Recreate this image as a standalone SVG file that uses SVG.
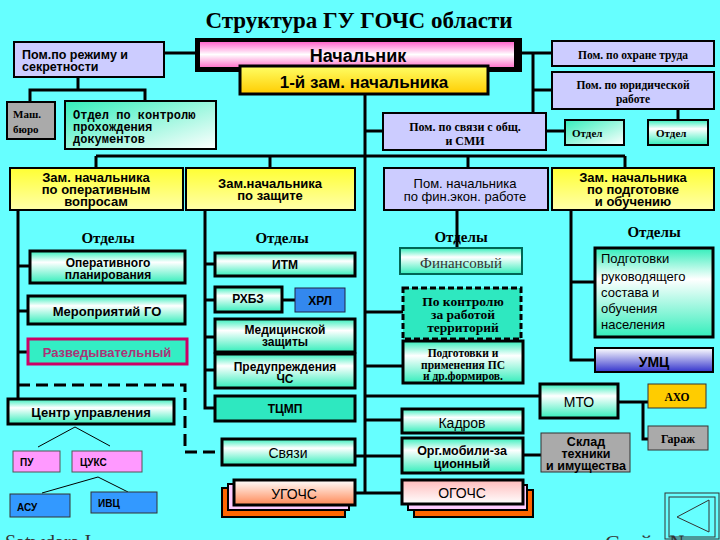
<svg xmlns="http://www.w3.org/2000/svg" width="720" height="540" viewBox="0 0 720 540">
<defs>
<linearGradient id="gPink" x1="0" y1="0" x2="0" y2="1">
<stop offset="0" stop-color="#FF66CC"/><stop offset="0.5" stop-color="#FFFFFF"/><stop offset="1" stop-color="#FF77CC"/>
</linearGradient>
<linearGradient id="gGold" x1="0" y1="0" x2="0" y2="1">
<stop offset="0" stop-color="#FFFF66"/><stop offset="1" stop-color="#FFCC00"/>
</linearGradient>
<linearGradient id="gYel" x1="0" y1="0" x2="0" y2="1">
<stop offset="0" stop-color="#FFFF33"/><stop offset="1" stop-color="#FFFFAA"/>
</linearGradient>
<linearGradient id="gTeal" x1="0" y1="0" x2="0" y2="1">
<stop offset="0" stop-color="#33EEBB"/><stop offset="0.35" stop-color="#FFFFFF"/><stop offset="1" stop-color="#33EEBB"/>
</linearGradient>
<linearGradient id="gTeal2" x1="0" y1="0" x2="1" y2="1">
<stop offset="0" stop-color="#33EEBB"/><stop offset="1" stop-color="#FFFFFF"/>
</linearGradient>
<linearGradient id="gBlue" x1="0" y1="0" x2="0" y2="1">
<stop offset="0" stop-color="#FFFFFF"/><stop offset="1" stop-color="#3333CC"/>
</linearGradient>
<linearGradient id="gOrange" x1="0" y1="0" x2="0" y2="1">
<stop offset="0" stop-color="#FFFFFF"/><stop offset="1" stop-color="#FF8855"/>
</linearGradient>
<linearGradient id="gRose" x1="0" y1="0" x2="0" y2="1">
<stop offset="0" stop-color="#FFBBBB"/><stop offset="1" stop-color="#FFFFFF"/>
</linearGradient>
<style>
.bx{stroke:#000;stroke-width:2}
.bx3{stroke:#000;stroke-width:3}
.lav{fill:#CCCCFF}
.gray{fill:#AAAAAA}
.teal{fill:url(#gTeal)}
.yel{fill:url(#gYel)}
.ln{stroke:#000;stroke-width:3;fill:none}
.thin{stroke:#000;stroke-width:1;fill:none}
.dash{stroke:#000;stroke-width:3;fill:none;stroke-dasharray:12,6}
.sa{font-family:"Liberation Sans",Arial,sans-serif;font-weight:bold;fill:#000}
.sr{font-family:"Liberation Sans",Arial,sans-serif;fill:#000}
.se{font-family:"Liberation Serif","Times New Roman",serif;font-weight:bold;fill:#000}
.mo{font-family:"Liberation Mono","Courier New",monospace;font-weight:bold;fill:#000}
.c{text-anchor:middle}
</style>
</defs>
<rect x="0" y="0" width="720" height="540" fill="#66FFFF"/>
<text class="se c" x="359" y="28" font-size="23">Структура ГУ ГОЧС области</text>

<g id="connectors">
<line class="ln" x1="164" y1="53" x2="196" y2="53"/>
<polyline class="ln" points="78,77 78,90"/>
<polyline class="ln" points="30,102 30,90 145,90 145,101"/>
<polyline class="ln" points="522,53 553,53"/>
<polyline class="ln" points="533,53 533,113"/>
<polyline class="ln" points="533,90 553,90"/>
<polyline class="ln" points="678,109 678,120"/>
<polyline class="ln" points="546,131 565,131"/>
<polyline class="ln" points="365,95 365,494"/>
<polyline class="ln" points="365,131 383,131"/>
<polyline class="ln" points="96,156 625,156"/>
<polyline class="ln" points="96,156 96,168"/>
<polyline class="ln" points="270,156 270,168"/>
<polyline class="ln" points="468,156 468,168"/>
<polyline class="ln" points="625,156 625,168"/>
<polyline class="ln" points="18,210 18,400"/>
<polyline class="ln" points="18,266 30,266"/>
<polyline class="ln" points="18,311 28,311"/>
<polyline class="ln" points="18,352 28,352"/>
<polyline class="dash" points="18,385 185,385 185,452 222,452"/>
<polyline class="ln" points="205,210 205,408 215,408"/>
<polyline class="ln" points="205,264 215,264"/>
<polyline class="ln" points="205,300 215,300"/>
<polyline class="ln" points="205,337 215,337"/>
<polyline class="ln" points="205,370 215,370"/>
<polyline class="ln" points="282,300 295,300"/>
<polyline class="ln" points="457,210 457,248"/>
<polyline class="ln" points="365,312 403,312"/>
<polyline class="ln" points="365,366 402,366"/>
<polyline class="ln" points="365,396 540,396"/>
<polyline class="ln" points="365,420 402,420"/>
<polyline class="ln" points="355,456 402,456"/>
<polyline class="ln" points="355,493 402,493"/>
<polyline class="ln" points="523,455 541,455"/>
<polyline class="ln" points="618,402 648,402"/>
<polyline class="ln" points="643,402 643,439 648,439"/>
<polyline class="ln" points="571,210 571,360 595,360"/>
<polyline class="ln" points="571,282 595,282"/>
<polyline class="thin" points="38,447 75,427 110,446"/>
<polyline class="thin" points="42,493 98,477 128,492"/>
</g>

<g id="n-nach">
<rect x="195" y="38" width="327" height="34" fill="#000"/>
<rect x="200" y="42" width="314" height="25" fill="url(#gPink)"/>
<text class="sa c" x="358" y="62" font-size="18">Начальник</text>
</g>
<g id="n-zam1">
<rect class="bx3" x="240" y="66" width="248" height="28" fill="url(#gGold)"/>
<text class="sa c" x="364" y="88" font-size="17">1-й зам. начальника</text>
</g>
<g id="n-rezhim">
<rect class="bx lav" x="14" y="42" width="150" height="35"/>
<text class="sa" x="22" y="59" font-size="12.5">Пом.по режиму и</text>
<text class="sa" x="22" y="71" font-size="12.5">секретности</text>
</g>
<g id="n-mash">
<rect class="bx gray" x="7" y="102" width="48" height="37" stroke-width="1"/>
<text class="se" x="13" y="118" font-size="11">Маш.</text>
<text class="se" x="13" y="133" font-size="11">бюро</text>
</g>
<g id="n-kontrol-doc">
<rect class="bx" x="65" y="101" width="151" height="48" fill="url(#gTeal2)"/>
<text class="mo" x="73" y="119" font-size="12">Отдел по контролю</text>
<text class="mo" x="73" y="131" font-size="12">прохождения</text>
<text class="mo" x="73" y="143" font-size="12">документов</text>
</g>
<g id="n-ohrana">
<rect class="bx lav" x="552" y="41" width="162" height="25"/>
<text class="se c" x="633" y="59" font-size="11.5">Пом. по охране труда</text>
</g>
<g id="n-yurid">
<rect class="bx lav" x="552" y="72" width="162" height="37"/>
<text class="se c" x="633" y="89" font-size="11.5">Пом. по юридической</text>
<text class="se c" x="633" y="103" font-size="11.5">работе</text>
</g>
<g id="n-smi">
<rect class="bx lav" x="383" y="113" width="163" height="37"/>
<text class="se c" x="465" y="131" font-size="12">Пом. по связи с общ.</text>
<text class="se c" x="465" y="145" font-size="12">и СМИ</text>
</g>
<g id="n-otdel1">
<rect class="bx" x="565" y="120" width="59" height="25" stroke-width="1.5" fill="url(#gTeal2)"/>
<text class="se" x="572" y="137" font-size="11">Отдел</text>
</g>
<g id="n-otdel2">
<rect class="bx" x="648" y="120" width="60" height="25" stroke-width="1.5" fill="url(#gTeal)"/>
<text class="se" x="656" y="137" font-size="11">Отдел</text>
</g>

<g id="n-zam-oper">
<rect class="bx yel" x="10" y="168" width="173" height="42"/>
<text class="sa c" x="96" y="182" font-size="13">Зам. начальника</text>
<text class="sa c" x="96" y="194" font-size="13">по оперативным</text>
<text class="sa c" x="96" y="206" font-size="13">вопросам</text>
</g>
<g id="n-zam-zash">
<rect class="bx yel" x="186" y="168" width="169" height="42"/>
<text class="sa c" x="270" y="188" font-size="13">Зам.начальника</text>
<text class="sa c" x="270" y="200" font-size="13">по защите</text>
</g>
<g id="n-fin">
<rect class="bx lav" x="384" y="168" width="164" height="42"/>
<text class="sr c" x="465" y="188" font-size="13">Пом. начальника</text>
<text class="sr c" x="465" y="201" font-size="13">по фин.экон. работе</text>
</g>
<g id="n-zam-podg">
<rect class="bx yel" x="552" y="168" width="162" height="42"/>
<text class="sa c" x="633" y="182" font-size="13">Зам. начальника</text>
<text class="sa c" x="633" y="194" font-size="13">по подготовке</text>
<text class="sa c" x="633" y="206" font-size="13">и обучению</text>
</g>

<text class="se c" x="108" y="243" font-size="15">Отделы</text>
<text class="se c" x="282" y="243" font-size="15">Отделы</text>
<text class="se c" x="461" y="242" font-size="15">Отделы</text>
<text class="se c" x="654" y="237" font-size="15">Отделы</text>

<g id="n-oper-plan">
<rect class="bx3 teal" x="30" y="251" width="155" height="32"/>
<text class="sa c" x="108" y="267" font-size="12">Оперативного</text>
<text class="sa c" x="108" y="279" font-size="12">планирования</text>
</g>
<g id="n-merop">
<rect class="bx3 teal" x="28" y="296" width="157" height="28"/>
<text class="sa c" x="107" y="316" font-size="13">Мероприятий ГО</text>
</g>
<g id="n-razved">
<rect x="28" y="339" width="159" height="25" fill="#33EEC4" stroke="#CC0066" stroke-width="3"/>
<text class="sa c" x="107" y="357" font-size="13" style="fill:#AA3377">Разведывательный</text>
</g>
<g id="n-centr">
<rect class="bx3 teal" x="8" y="399" width="166" height="25"/>
<text class="sa c" x="91" y="417" font-size="13">Центр управления</text>
</g>
<g id="n-pu">
<rect x="13" y="451" width="47" height="21" fill="#FF99FF" stroke="#555" stroke-width="1"/>
<text class="sa" x="20" y="466" font-size="10">ПУ</text>
</g>
<g id="n-cuks">
<rect x="72" y="451" width="70" height="21" fill="#FF99FF" stroke="#555" stroke-width="1"/>
<text class="sa" x="80" y="466" font-size="10">ЦУКС</text>
</g>
<g id="n-asu">
<rect x="10" y="494" width="60" height="23" fill="#3399FF" stroke="#333" stroke-width="1"/>
<text class="sa" x="17" y="511" font-size="10">АСУ</text>
</g>
<g id="n-ivc">
<rect x="91" y="492" width="66" height="21" fill="#3399FF" stroke="#333" stroke-width="1"/>
<text class="sa" x="98" y="507" font-size="10">ИВЦ</text>
</g>

<g id="n-itm">
<rect class="bx3 teal" x="215" y="253" width="140" height="23"/>
<text class="sa c" x="285" y="269" font-size="12">ИТМ</text>
</g>
<g id="n-rhbz">
<rect class="bx3 teal" x="215" y="287" width="67" height="25"/>
<text class="sa c" x="248" y="303" font-size="12">РХБЗ</text>
</g>
<g id="n-hrl">
<rect x="295" y="288" width="50" height="24" fill="#3388EE" stroke="#224" stroke-width="1"/>
<text class="sa c" x="320" y="305" font-size="12">ХРЛ</text>
</g>
<g id="n-med">
<rect class="bx3 teal" x="215" y="319" width="140" height="33"/>
<text class="sa c" x="285" y="334" font-size="12">Медицинской</text>
<text class="sa c" x="285" y="346" font-size="12">защиты</text>
</g>
<g id="n-preduprezh">
<rect class="bx3 teal" x="215" y="354" width="140" height="34"/>
<text class="sa c" x="285" y="371" font-size="12">Предупреждения</text>
<text class="sa c" x="285" y="383" font-size="12">ЧС</text>
</g>
<g id="n-tcmp">
<rect class="bx3" x="215" y="396" width="140" height="25" fill="#2EE8C0"/>
<text class="sa c" x="285" y="413" font-size="12">ТЦМП</text>
</g>
<g id="n-svyazi">
<rect class="bx3 teal" x="222" y="439" width="133" height="26"/>
<text class="sr c" x="288" y="458" font-size="14">Связи</text>
</g>
<g id="n-ugochs">
<rect x="222" y="488" width="123" height="29" fill="#FF6600" stroke="#000" stroke-width="2"/>
<rect x="228" y="484" width="121" height="26" fill="#FFCCFF" stroke="#000" stroke-width="2"/>
<rect class="bx3" x="234" y="480" width="121" height="25" fill="url(#gOrange)"/>
<text class="sr c" x="294" y="499" font-size="14">УГОЧС</text>
</g>

<g id="n-finans">
<rect x="400" y="248" width="122" height="26" fill="url(#gTeal)" stroke="#006655" stroke-width="2"/>
<text font-family="'Liberation Serif',serif" text-anchor="middle" x="461" y="268" font-size="15" fill="#333">Финансовый</text>
</g>
<g id="n-kontrol-terr">
<rect x="403" y="288" width="118" height="51" fill="#2EE8C0" stroke="#000" stroke-width="3" stroke-dasharray="6,3"/>
<text class="se c" x="463" y="306" font-size="13.5">По контролю</text>
<text class="se c" x="463" y="319" font-size="13.5">за работой</text>
<text class="se c" x="463" y="332" font-size="13.5">территорий</text>
</g>
<g id="n-podg-ps">
<rect class="bx3 teal" x="403" y="341" width="120" height="42"/>
<text class="se c" x="463" y="357" font-size="11.5">Подготовки и</text>
<text class="se c" x="463" y="369" font-size="11.5">применения ПС</text>
<text class="se c" x="463" y="380" font-size="11.5">и др.формиров.</text>
</g>
<g id="n-kadrov">
<rect class="bx3 teal" x="402" y="409" width="121" height="24"/>
<text class="sr c" x="462" y="428" font-size="14">Кадров</text>
</g>
<g id="n-orgmob">
<rect class="bx3 teal" x="402" y="438" width="121" height="35"/>
<text class="sa c" x="462" y="455" font-size="12.5">Орг.мобили-за</text>
<text class="sa c" x="462" y="468" font-size="12.5">ционный</text>
</g>
<g id="n-ogochs">
<rect x="414" y="490" width="119" height="27" fill="#FF6600" stroke="#000" stroke-width="2"/>
<rect x="408" y="485" width="119" height="25" fill="#FFCCFF" stroke="#000" stroke-width="2"/>
<rect class="bx3" x="402" y="480" width="121" height="24" fill="url(#gRose)"/>
<text class="sr c" x="462" y="498" font-size="14">ОГОЧС</text>
</g>

<g id="n-mto">
<rect class="bx3 teal" x="540" y="384" width="78" height="34"/>
<text class="sr c" x="579" y="407" font-size="14">МТО</text>
</g>
<g id="n-aho">
<rect x="648" y="384" width="58" height="24" fill="#FFCC00" stroke="#333" stroke-width="1"/>
<text class="se c" x="677" y="401" font-size="11.5">АХО</text>
</g>
<g id="n-garazh">
<rect x="648" y="426" width="60" height="24" fill="#AAAAAA" stroke="#333" stroke-width="1"/>
<text class="se c" x="678" y="443" font-size="12">Гараж</text>
</g>
<g id="n-sklad">
<rect x="541" y="433" width="89" height="39" fill="#AAAAAA" stroke="#333" stroke-width="1"/>
<text class="sa c" x="586" y="446" font-size="12.5">Склад</text>
<text class="sa c" x="586" y="458" font-size="12.5">техники</text>
<text class="sa c" x="586" y="470" font-size="12.5">и имущества</text>
</g>

<g id="n-podg-ruk">
<rect class="bx3 teal" x="595" y="248" width="118" height="89"/>
<text class="sr" x="601" y="263" font-size="13">Подготовки</text>
<text class="sr" x="601" y="281" font-size="13">руководящего</text>
<text class="sr" x="601" y="297" font-size="13">состава и</text>
<text class="sr" x="601" y="313" font-size="13">обучения</text>
<text class="sr" x="601" y="329" font-size="13">населения</text>
</g>
<g id="n-umc">
<rect class="bx" x="595" y="348" width="118" height="24" fill="url(#gBlue)"/>
<text class="sa c" x="654" y="367" font-size="14">УМЦ</text>
</g>

<g id="footer">
<text font-family="'Liberation Serif',serif" x="5" y="549" font-size="20" fill="#333">Satwdara I</text>
<rect x="665" y="493" width="54" height="46" fill="none" stroke="#333" stroke-width="1"/>
<rect x="669" y="497" width="46" height="40" fill="none" stroke="#333" stroke-width="1"/>
<polygon points="709,500 709,532 677,517" fill="none" stroke="#333" stroke-width="1"/>
<text font-family="'Liberation Serif',serif" x="605" y="550" font-size="22" fill="#333">Слайд  №</text>
</g>
</svg>
